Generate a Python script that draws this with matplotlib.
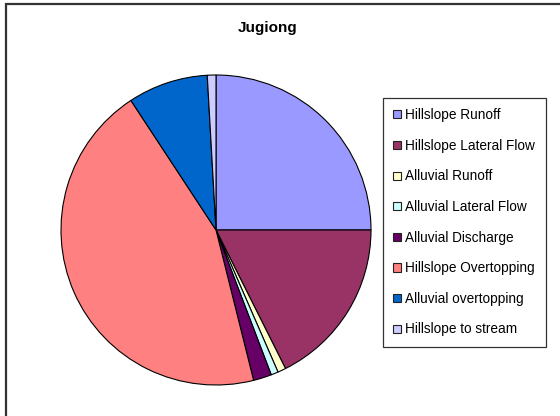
import matplotlib
matplotlib.use("Agg")
import matplotlib.pyplot as plt
from matplotlib.patches import Rectangle

plt.rcParams['font.family'] = ['Liberation Sans', 'DejaVu Sans']

labels = ['Hillslope Runoff', 'Hillslope Lateral Flow', 'Alluvial Runoff',
          'Alluvial Lateral Flow', 'Alluvial Discharge', 'Hillslope Overtopping',
          'Alluvial overtopping', 'Hillslope to stream']
shares = [25.0, 17.6, 0.85, 0.75, 1.9, 44.65, 8.35, 0.9]
colors = ['#9999FF', '#993366', '#FFFFCC', '#CCFFFF', '#660066', '#FF8080',
          '#0066CC', '#CCCCFF']

W, H = 560, 416
fig = plt.figure(figsize=(W / 100, H / 100), dpi=100)

# outer chart frame
fig.patches.append(Rectangle((5.5 / W, -0.1), 1.2, (H - 4) / H + 0.1,
                             transform=fig.transFigure, fill=False,
                             edgecolor='#333333', linewidth=1.6))

cx, cy, r = 216, 230, 155
ax = fig.add_axes([(cx - r) / W, (H - cy - r) / H, 2 * r / W, 2 * r / H])
wedges, _ = ax.pie(shares, colors=colors, startangle=90, counterclock=False,
                   radius=1, wedgeprops=dict(edgecolor='black', linewidth=0.8))
ax.set_xlim(-1, 1)
ax.set_ylim(-1, 1)
ax.set_aspect('equal')

fig.text(268 / W, 1 - 28 / H, 'Jugiong', ha='center', va='center',
         fontsize=11, fontweight='bold')

leg = fig.legend(wedges, labels, loc='upper left',
                 bbox_to_anchor=(383 / W, 1 - 98 / H), fontsize=9.8,
                 frameon=True, fancybox=False, edgecolor='black',
                 handlelength=0.55, handleheight=0.55, handletextpad=0.35,
                 labelspacing=1.22, borderpad=0.75, borderaxespad=0)
leg.get_frame().set_linewidth(0.9)
for h in leg.legend_handles:
    h.set_edgecolor('#222222')
    h.set_linewidth(0.8)

fig.savefig('out.png', dpi=100, facecolor='white')
